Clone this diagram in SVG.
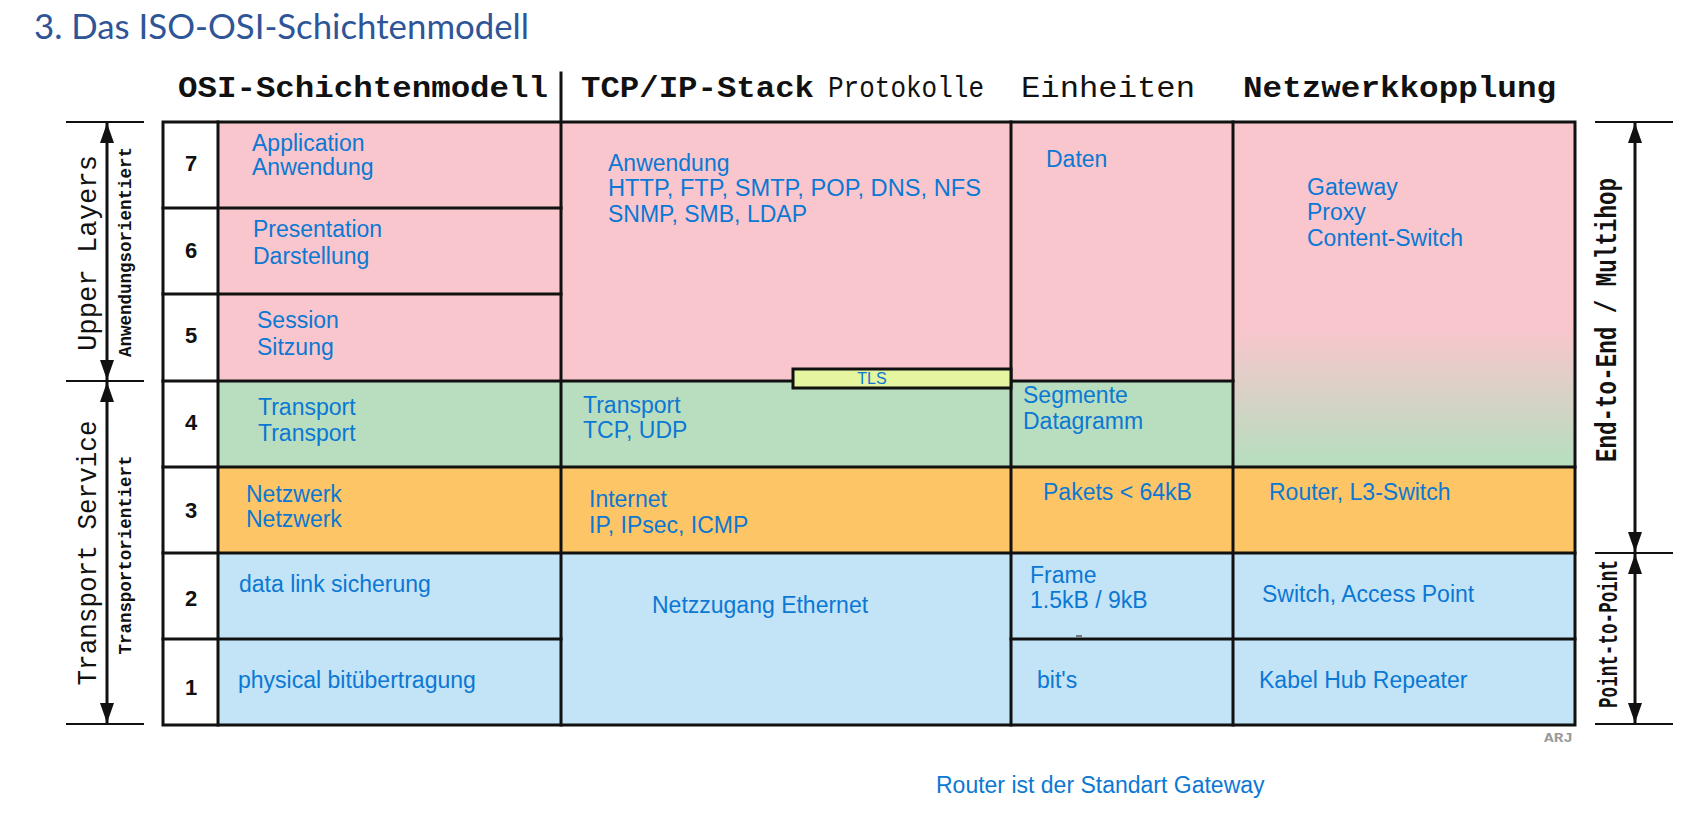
<svg xmlns="http://www.w3.org/2000/svg" width="1695" height="826" viewBox="0 0 1695 826">
<style>
.pink{fill:#F9C6CD}
.green{fill:#B9DDBF}
.orange{fill:#FDC566}
.blue{fill:#C3E3F7}
.white{fill:#FFFFFF}
.grid{stroke:#111;stroke-width:3;fill:none;stroke-linecap:square}
.t{font-family:"Liberation Sans",Arial,sans-serif;font-size:23px;fill:#0B78D3}
.num{font-family:"Liberation Sans",Arial,sans-serif;font-size:22px;font-weight:bold;fill:#111;text-anchor:middle}
.hb{font-family:"Liberation Mono","Courier New",monospace;font-size:30px;font-weight:bold;fill:#111}
.hr{font-family:"Liberation Mono","Courier New",monospace;font-size:30px;fill:#111}
.side{font-family:"Liberation Mono","Courier New",monospace;fill:#111;text-anchor:middle}
.dim{stroke:#111;stroke-width:2}
.shaft{stroke:#111;stroke-width:3;marker-start:url(#ah);marker-end:url(#ah)}
</style>
<defs>
<marker id="ah" viewBox="0 0 20 14" refX="20" refY="7" markerWidth="20" markerHeight="14" markerUnits="userSpaceOnUse" orient="auto-start-reverse">
<path d="M0,0 L20,7 L0,14 z" fill="#111"/>
</marker>
<linearGradient id="pg" gradientUnits="userSpaceOnUse" x1="0" y1="330" x2="0" y2="458">
<stop offset="0" stop-color="#F9C6CD"/>
<stop offset="1" stop-color="#B9DDBF"/>
</linearGradient>
</defs>
<rect width="1695" height="826" fill="#fff"/>

<text id="title" x="34" y="39" font-family="Lato,'Open Sans',sans-serif" font-size="35" fill="#2E5597" textLength="495" lengthAdjust="spacingAndGlyphs">3. Das ISO-OSI-Schichtenmodell</text>

<g id="headers">
<text class="hb" x="178" y="97" textLength="370" lengthAdjust="spacingAndGlyphs">OSI-Schichtenmodell</text>
<text class="hb" x="581" y="97" textLength="233" lengthAdjust="spacingAndGlyphs">TCP/IP-Stack</text>
<text class="hr" x="828" y="97" textLength="156" lengthAdjust="spacingAndGlyphs">Protokolle</text>
<text class="hr" x="1021" y="97" textLength="174" lengthAdjust="spacingAndGlyphs">Einheiten</text>
<text class="hb" x="1243" y="97" textLength="313" lengthAdjust="spacingAndGlyphs">Netzwerkkopplung</text>
</g>

<!-- number column -->
<g id="num-col">
<rect class="white" x="163" y="122" width="55" height="603"/>
<text class="num" x="191" y="171">7</text>
<text class="num" x="191" y="258">6</text>
<text class="num" x="191" y="343">5</text>
<text class="num" x="191" y="430">4</text>
<text class="num" x="191" y="518">3</text>
<text class="num" x="191" y="606">2</text>
<text class="num" x="191" y="695">1</text>
</g>

<!-- OSI column -->
<g id="osi-7"><rect class="pink" x="218" y="122" width="343" height="86"/>
<text class="t" x="252" y="151">Application</text><text class="t" x="252" y="175">Anwendung</text></g>
<g id="osi-6"><rect class="pink" x="218" y="208" width="343" height="86"/>
<text class="t" x="253" y="237">Presentation</text><text class="t" x="253" y="264">Darstellung</text></g>
<g id="osi-5"><rect class="pink" x="218" y="294" width="343" height="87"/>
<text class="t" x="257" y="328">Session</text><text class="t" x="257" y="355">Sitzung</text></g>
<g id="osi-4"><rect class="green" x="218" y="381" width="343" height="86"/>
<text class="t" x="258" y="415">Transport</text><text class="t" x="258" y="441">Transport</text></g>
<g id="osi-3"><rect class="orange" x="218" y="467" width="343" height="86"/>
<text class="t" x="246" y="502">Netzwerk</text><text class="t" x="246" y="527">Netzwerk</text></g>
<g id="osi-2"><rect class="blue" x="218" y="553" width="343" height="86"/>
<text class="t" x="239" y="592">data link sicherung</text></g>
<g id="osi-1"><rect class="blue" x="218" y="639" width="343" height="86"/>
<text class="t" x="238" y="688">physical bitübertragung</text></g>

<!-- TCP/IP column -->
<g id="tcp-app"><rect class="pink" x="561" y="122" width="450" height="259"/>
<text class="t" x="608" y="171">Anwendung</text>
<text class="t" x="608" y="196" textLength="373" lengthAdjust="spacingAndGlyphs">HTTP, FTP, SMTP, POP, DNS, NFS</text>
<text class="t" x="608" y="222">SNMP, SMB, LDAP</text></g>
<g id="tcp-transport"><rect class="green" x="561" y="381" width="450" height="86"/>
<text class="t" x="583" y="413">Transport</text><text class="t" x="583" y="438">TCP, UDP</text></g>
<g id="tcp-internet"><rect class="orange" x="561" y="467" width="450" height="86"/>
<text class="t" x="589" y="507">Internet</text><text class="t" x="589" y="533">IP, IPsec, ICMP</text></g>
<g id="tcp-net"><rect class="blue" x="561" y="553" width="450" height="172"/>
<text class="t" x="652" y="613">Netzzugang Ethernet</text></g>

<!-- Einheiten column -->
<g id="einh-daten"><rect class="pink" x="1011" y="122" width="222" height="259"/>
<text class="t" x="1046" y="167">Daten</text></g>
<g id="einh-seg"><rect class="green" x="1011" y="381" width="222" height="86"/>
<text class="t" x="1023" y="403">Segmente</text><text class="t" x="1023" y="429">Datagramm</text></g>
<g id="einh-pak"><rect class="orange" x="1011" y="467" width="222" height="86"/>
<text class="t" x="1043" y="500">Pakets &lt; 64kB</text></g>
<g id="einh-frame"><rect class="blue" x="1011" y="553" width="222" height="86"/>
<text class="t" x="1030" y="583">Frame</text><text class="t" x="1030" y="608">1.5kB / 9kB</text>
<line x1="1076" y1="636" x2="1082" y2="636" stroke="#555" stroke-width="1.5"/></g>
<g id="einh-bits"><rect class="blue" x="1011" y="639" width="222" height="86"/>
<text class="t" x="1037" y="688">bit's</text></g>

<!-- Netzwerkkopplung column -->
<g id="netz-gw"><rect fill="url(#pg)" x="1233" y="122" width="342" height="345"/>
<text class="t" x="1307" y="195">Gateway</text><text class="t" x="1307" y="220">Proxy</text><text class="t" x="1307" y="246">Content-Switch</text></g>
<g id="netz-router"><rect class="orange" x="1233" y="467" width="342" height="86"/>
<text class="t" x="1269" y="500">Router, L3-Switch</text></g>
<g id="netz-switch"><rect class="blue" x="1233" y="553" width="342" height="86"/>
<text class="t" x="1262" y="602">Switch, Access Point</text></g>
<g id="netz-kabel"><rect class="blue" x="1233" y="639" width="342" height="86"/>
<text class="t" x="1259" y="688">Kabel Hub Repeater</text></g>

<!-- grid lines -->
<g id="grid" class="grid">
<rect x="163" y="122" width="1412" height="603"/>
<line x1="218" y1="122" x2="218" y2="725"/>
<line x1="561" y1="73" x2="561" y2="725"/>
<line x1="1011" y1="122" x2="1011" y2="725"/>
<line x1="1233" y1="122" x2="1233" y2="725"/>
<line x1="163" y1="208" x2="561" y2="208"/>
<line x1="163" y1="294" x2="561" y2="294"/>
<line x1="163" y1="381" x2="1233" y2="381"/>
<line x1="163" y1="467" x2="1575" y2="467"/>
<line x1="163" y1="553" x2="1575" y2="553"/>
<line x1="163" y1="639" x2="561" y2="639"/>
<line x1="1011" y1="639" x2="1575" y2="639"/>
</g>

<g id="tls">
<rect x="793" y="369" width="218" height="19" fill="#E5F5A0" stroke="#111" stroke-width="3"/>
<text x="872" y="384" font-family="'Liberation Sans',Arial,sans-serif" font-size="16" fill="#0B78D3" text-anchor="middle">TLS</text>
</g>

<text id="arj" x="1544" y="742" font-family="'Liberation Mono','Courier New',monospace" font-size="13" font-weight="bold" fill="#9A9A9A" textLength="29" lengthAdjust="spacingAndGlyphs">ARJ</text>

<!-- side labels -->
<g id="upper-layers">
<text class="side" transform="translate(96,253) rotate(-90)" font-size="28" textLength="196" lengthAdjust="spacingAndGlyphs">Upper Layers</text>
<text class="side" transform="translate(131,252) rotate(-90)" font-size="18" font-weight="bold" textLength="210" lengthAdjust="spacingAndGlyphs">Anwendungsorientiert</text>
</g>
<g id="transport-service">
<text class="side" transform="translate(96,553) rotate(-90)" font-size="28" textLength="265" lengthAdjust="spacingAndGlyphs">Transport Service</text>
<text class="side" transform="translate(131,555) rotate(-90)" font-size="18" font-weight="bold" textLength="199" lengthAdjust="spacingAndGlyphs">Transportorientiert</text>
</g>
<g id="end-to-end">
<text class="side" transform="translate(1616,320) rotate(-90)" font-size="29" font-weight="bold" textLength="284" lengthAdjust="spacingAndGlyphs">End-to-End / Multihop</text>
</g>
<g id="point-to-point">
<text class="side" transform="translate(1617,634) rotate(-90)" font-size="27" font-weight="bold" textLength="148" lengthAdjust="spacingAndGlyphs">Point-to-Point</text>
</g>

<!-- connectors: dimension arrows -->
<g id="connectors">
<line class="dim" x1="66" y1="122" x2="144" y2="122"/>
<line class="dim" x1="66" y1="381" x2="144" y2="381"/>
<line class="dim" x1="66" y1="724" x2="144" y2="724"/>
<line class="shaft" x1="107" y1="123" x2="107" y2="380"/>
<line class="shaft" x1="107" y1="382" x2="107" y2="723"/>
<line class="dim" x1="1595" y1="122" x2="1673" y2="122"/>
<line class="dim" x1="1595" y1="553" x2="1673" y2="553"/>
<line class="dim" x1="1595" y1="724" x2="1673" y2="724"/>
<line class="shaft" x1="1635" y1="123" x2="1635" y2="552"/>
<line class="shaft" x1="1635" y1="554" x2="1635" y2="723"/>
</g>

<text id="footer" class="t" x="936" y="793">Router ist der Standart Gateway</text>
</svg>
